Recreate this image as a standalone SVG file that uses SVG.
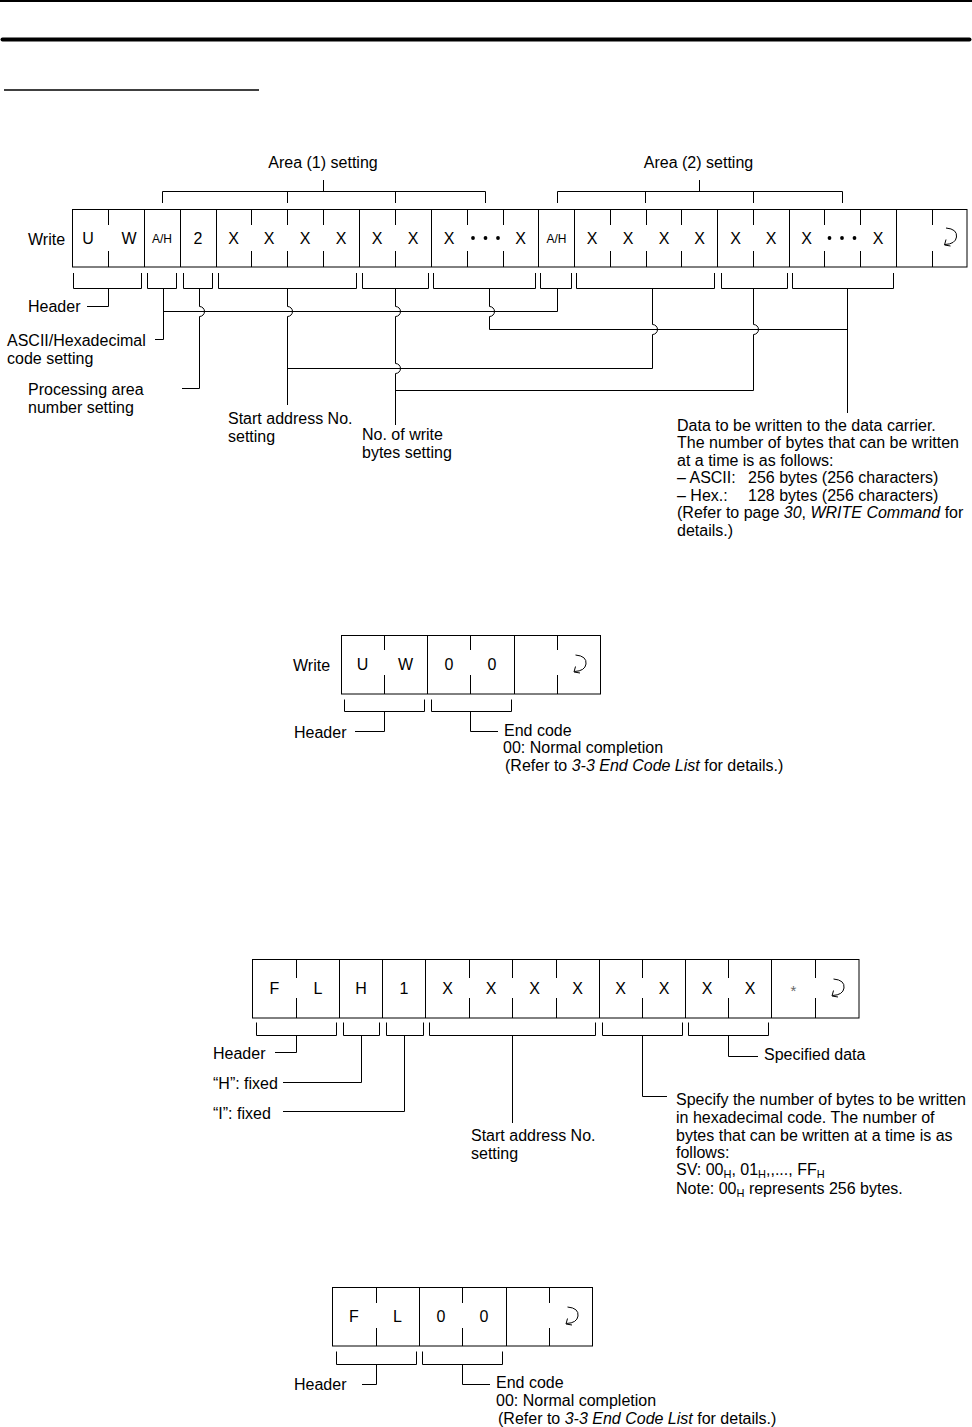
<svg xmlns="http://www.w3.org/2000/svg" xmlns:xlink="http://www.w3.org/1999/xlink" width="972" height="1427" viewBox="0 0 972 1427">
<style>
text{font-family:"Liberation Sans",Arial,Helvetica,sans-serif;font-size:16px;fill:#000}
.c{text-anchor:middle}
.s{font-size:12px}
.i{font-style:italic}
.ln{stroke:#000;stroke-width:1;fill:none}
.box{stroke:#000;stroke-width:1;fill:#fff}
.sub{font-size:11px}
</style>
<defs>
<g id="cr" class="ln"><path d="M-3.5 -9 Q8 -8 7 0 Q6 7 -4.5 7.5"/><path d="M-3.5 2.5 L-5 8 L1 9"/></g>
</defs>
<rect width="972" height="1427" fill="#fff"/>
<g id="page-rules">
<line x1="0" y1="1" x2="972" y2="1" stroke="#000" stroke-width="2"/>
<rect x="0.5" y="37.5" width="971" height="4" rx="2" fill="#000"/>
<line x1="4" y1="90" x2="259" y2="90" stroke="#000" stroke-width="1.5"/>
</g>

<!-- Diagram 1: Write command -->
<g id="d1-frame">
<text x="28" y="245">Write</text>
<rect class="box" x="72.5" y="209.5" width="894.5" height="57.5"/>
<path class="ln" d="M144.5 209.5V267M180.5 209.5V267M216.5 209.5V267M359.5 209.5V267M431.5 209.5V267M538.5 209.5V267M574.5 209.5V267M717.5 209.5V267M789.5 209.5V267M896.5 209.5V267"/>
<path class="ln" d="M108.5 209.5V225M108.5 251V267M251.5 209.5V225M251.5 251V267M287.5 209.5V225M287.5 251V267M323.5 209.5V225M323.5 251V267M395.5 209.5V225M395.5 251V267M467.5 209.5V225M467.5 251V267M503.5 209.5V225M503.5 251V267M610.5 209.5V225M610.5 251V267M646.5 209.5V225M646.5 251V267M681.5 209.5V225M681.5 251V267M753.5 209.5V225M753.5 251V267M824.5 209.5V225M824.5 251V267M860.5 209.5V225M860.5 251V267M932.5 209.5V225M932.5 251V267"/>
</g>
<g id="d1-cells">
<text class="c" x="88" y="244">U</text>
<text class="c" x="129" y="244">W</text>
<text class="c s" x="162" y="243">A/H</text>
<text class="c" x="198" y="244">2</text>
<text class="c" x="233.5" y="244">X</text>
<text class="c" x="269" y="244">X</text>
<text class="c" x="305" y="244">X</text>
<text class="c" x="341" y="244">X</text>
<text class="c" x="377" y="244">X</text>
<text class="c" x="413" y="244">X</text>
<text class="c" x="449" y="244">X</text>
<circle cx="473" cy="238" r="1.9"/><circle cx="485.5" cy="238" r="1.9"/><circle cx="498" cy="238" r="1.9"/>
<text class="c" x="520.5" y="244">X</text>
<text class="c s" x="556.5" y="243">A/H</text>
<text class="c" x="592" y="244">X</text>
<text class="c" x="628" y="244">X</text>
<text class="c" x="664" y="244">X</text>
<text class="c" x="699.5" y="244">X</text>
<text class="c" x="735.5" y="244">X</text>
<text class="c" x="771" y="244">X</text>
<text class="c" x="806.5" y="244">X</text>
<circle cx="829.5" cy="238" r="1.9"/><circle cx="842" cy="238" r="1.9"/><circle cx="854.5" cy="238" r="1.9"/>
<text class="c" x="878" y="244">X</text>
<use xlink:href="#cr" href="#cr" transform="translate(949.5 237)"/>
</g>
<g id="d1-area1">
<text class="c" x="323" y="168">Area (1) setting</text>
</g>
<g id="d1-area2">
<text class="c" x="698.5" y="168">Area (2) setting</text>
</g>
<g id="d1-labels">
<text x="28" y="312">Header</text>
<text x="7" y="346">ASCII/Hexadecimal</text>
<text x="7" y="364">code setting</text>
<text x="28" y="395">Processing area</text>
<text x="28" y="413">number setting</text>
<text x="228" y="424">Start address No.</text>
<text x="228" y="442">setting</text>
<text x="362" y="440">No. of write</text>
<text x="362" y="458">bytes setting</text>
</g>
<g id="d1-data-note">
<text x="677" y="431">Data to be written to the data carrier.</text>
<text x="677" y="448">The number of bytes that can be written</text>
<text x="677" y="466">at a time is as follows:</text>
<text x="677" y="483">– ASCII:</text><text x="748" y="483">256 bytes (256 characters)</text>
<text x="677" y="501">– Hex.:</text><text x="748" y="501">128 bytes (256 characters)</text>
<text x="677" y="518">(Refer to page <tspan class="i">30</tspan>, <tspan class="i">WRITE Command</tspan> for</text>
<text x="677" y="536">details.)</text>
</g>
<g id="d1-connectors" class="ln">
<path d="M162.5 203V191.5H485.5V203M287.5 191.5V203M395.5 191.5V203M323.5 191.5V180"/>
<path d="M557.5 203V191.5H842.5V203M645.5 191.5V203M753.5 191.5V203M699.5 191.5V180"/>
<path d="M73.5 273V288.5H141.5V273M147.5 273V288.5H176.5V273M183.5 273V288.5H212.5V273M218.5 273V288.5H356.5V273M362.5 273V288.5H428.5V273M433.5 273V288.5H535.5V273M540.5 273V288.5H571.5V273M576.5 273V288.5H714.5V273M721.5 273V288.5H787.5V273M792.5 273V288.5H893.5V273"/>
<path d="M108.5 288.5V306.5H87"/>
<path d="M163.5 288.5V339.5H155"/>
<path d="M163.5 311.5H557.5V288.5"/>
<path d="M199.5 288.5V306.5A5 5 0 0 1 199.5 316.5V388.5H182"/>
<path d="M287.5 288.5V306.5A5 5 0 0 1 287.5 316.5V405"/>
<path d="M395.5 288.5V306.5A5 5 0 0 1 395.5 316.5V363.5A5 5 0 0 1 395.5 373.5V425"/>
<path d="M489.5 288.5V306.5A5 5 0 0 1 489.5 316.5V329.5H847.5"/>
<path d="M652.5 288.5V324.5A5 5 0 0 1 652.5 334.5V368.5H287.5"/>
<path d="M753.5 288.5V324.5A5 5 0 0 1 753.5 334.5V390.5H395.5"/>
<path d="M847.5 288.5V413"/>
</g>

<!-- Diagram 2: Write response -->
<g id="d2-frame">
<text x="293" y="671">Write</text>
<rect class="box" x="341.5" y="635.5" width="259" height="58.5"/>
<path class="ln" d="M427.5 635.5V694M514.5 635.5V694M384.5 635.5V650M384.5 675V694M470.5 635.5V650M470.5 675V694M557.5 635.5V650M557.5 675V694"/>
<text class="c" x="362.5" y="670">U</text>
<text class="c" x="405.5" y="670">W</text>
<text class="c" x="449" y="670">0</text>
<text class="c" x="492" y="670">0</text>
<use xlink:href="#cr" href="#cr" transform="translate(579 664)"/>
</g>
<g id="d2-labels">
<text x="294" y="738">Header</text>
<text x="504" y="736">End code</text>
<text x="503" y="753">00: Normal completion</text>
<text x="505" y="771">(Refer to <tspan class="i">3-3 End Code List</tspan> for details.)</text>
</g>
<g id="d2-connectors" class="ln">
<path d="M344.5 699.5V711.5H424.5V699.5M431.5 699.5V711.5H511.5V699.5"/>
<path d="M384.5 711.5V731.5H355M470.5 711.5V731.5H498"/>
</g>

<!-- Diagram 3: FL command -->
<g id="d3-frame">
<rect class="box" x="252.5" y="959.5" width="606.5" height="58.5"/>
<path class="ln" d="M339.5 959.5V1018M382.5 959.5V1018M425.5 959.5V1018M599.5 959.5V1018M685.5 959.5V1018M771.5 959.5V1018"/>
<path class="ln" d="M296.5 959.5V978M296.5 998V1018M469.5 959.5V978M469.5 998V1018M512.5 959.5V978M512.5 998V1018M556.5 959.5V978M556.5 998V1018M642.5 959.5V978M642.5 998V1018M728.5 959.5V978M728.5 998V1018M815.5 959.5V978M815.5 998V1018"/>
<text class="c" x="274.5" y="994">F</text>
<text class="c" x="318" y="994">L</text>
<text class="c" x="361" y="994">H</text>
<text class="c" x="404" y="994">1</text>
<text class="c" x="447.5" y="994">X</text>
<text class="c" x="491" y="994">X</text>
<text class="c" x="534.5" y="994">X</text>
<text class="c" x="577.5" y="994">X</text>
<text class="c" x="620.5" y="994">X</text>
<text class="c" x="664" y="994">X</text>
<text class="c" x="707" y="994">X</text>
<text class="c" x="750" y="994">X</text>
<text class="c" x="793.5" y="996" style="font-size:15px;fill:#666">*</text>
<use xlink:href="#cr" href="#cr" transform="translate(837 988)"/>
</g>
<g id="d3-labels">
<text x="213" y="1059">Header</text>
<text x="213" y="1089">“H”: fixed</text>
<text x="213" y="1119">“I”: fixed</text>
<text x="471" y="1141">Start address No.</text>
<text x="471" y="1159">setting</text>
<text x="764" y="1060">Specified data</text>
<text x="676" y="1105">Specify the number of bytes to be written</text>
<text x="676" y="1123">in hexadecimal code. The number of</text>
<text x="676" y="1141">bytes that can be written at a time is as</text>
<text x="676" y="1158">follows:</text>
<text x="676" y="1175">SV: 00<tspan class="sub" dy="3">H</tspan><tspan dy="-3">, 01</tspan><tspan class="sub" dy="3">H</tspan><tspan dy="-3">,,..., FF</tspan><tspan class="sub" dy="3">H</tspan></text>
<text x="676" y="1194">Note: 00<tspan class="sub" dy="3">H</tspan><tspan dy="-3"> represents 256 bytes.</tspan></text>
</g>
<g id="d3-connectors" class="ln">
<path d="M256.5 1022.5V1035.5H336.5V1022.5M343.5 1022.5V1035.5H379.5V1022.5M386.5 1022.5V1035.5H423.5V1022.5M429.5 1022.5V1035.5H595.5V1022.5M602.5 1022.5V1035.5H682.5V1022.5M688.5 1022.5V1035.5H768.5V1022.5"/>
<path d="M296.5 1035.5V1052.5H275"/>
<path d="M361.5 1035.5V1082.5H283"/>
<path d="M404.5 1035.5V1111.5H283"/>
<path d="M512.5 1035.5V1123"/>
<path d="M642.5 1035.5V1096.5H667"/>
<path d="M728.5 1035.5V1056.5H758"/>
</g>

<!-- Diagram 4: FL response -->
<g id="d4-frame">
<rect class="box" x="332.5" y="1287.5" width="260" height="58.5"/>
<path class="ln" d="M419.5 1287.5V1346M506.5 1287.5V1346M376.5 1287.5V1303M376.5 1328V1346M462.5 1287.5V1303M462.5 1328V1346M549.5 1287.5V1303M549.5 1328V1346"/>
<text class="c" x="354" y="1322">F</text>
<text class="c" x="397.5" y="1322">L</text>
<text class="c" x="441" y="1322">0</text>
<text class="c" x="484" y="1322">0</text>
<use xlink:href="#cr" href="#cr" transform="translate(571 1316)"/>
</g>
<g id="d4-labels">
<text x="294" y="1390">Header</text>
<text x="496" y="1388">End code</text>
<text x="496" y="1406">00: Normal completion</text>
<text x="498" y="1424">(Refer to <tspan class="i">3-3 End Code List</tspan> for details.)</text>
</g>
<g id="d4-connectors" class="ln">
<path d="M336.5 1351.5V1364.5H416.5V1351.5M422.5 1351.5V1364.5H502.5V1351.5"/>
<path d="M376.5 1364.5V1384.5H362M462.5 1364.5V1384.5H490"/>
</g>
</svg>
